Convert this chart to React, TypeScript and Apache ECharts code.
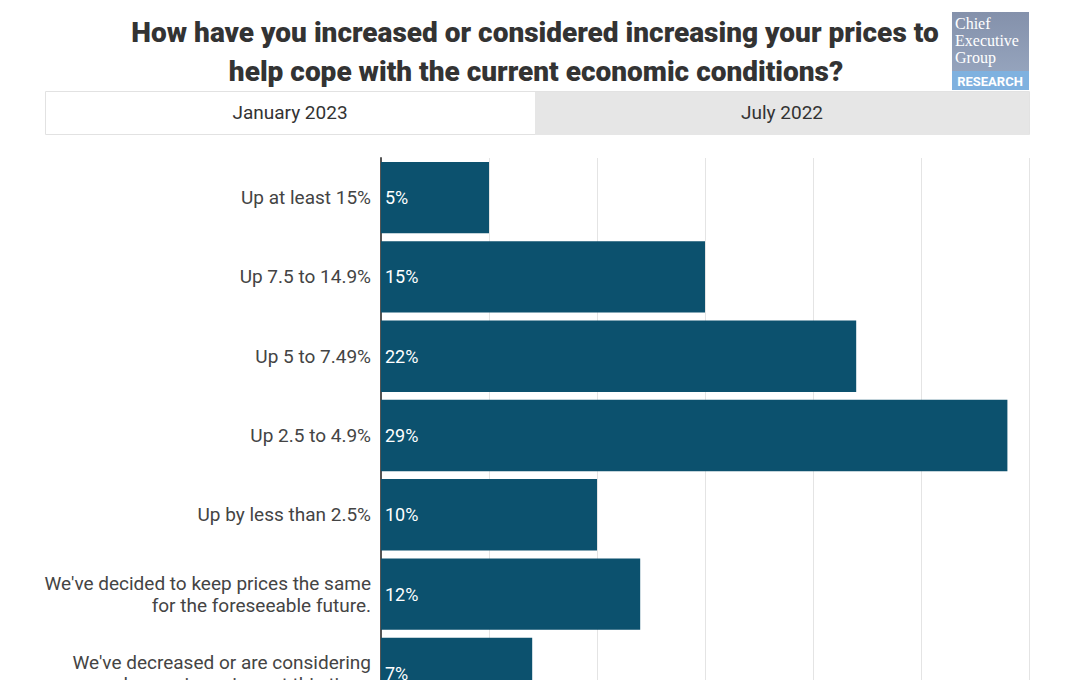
import React, { useEffect, useRef } from "react";
import * as echarts from "echarts";

const categories = [
  "Up at least 15%",
  "Up 7.5 to 14.9%",
  "Up 5 to 7.49%",
  "Up 2.5 to 4.9%",
  "Up by less than 2.5%",
  "We've decided to keep prices the same\nfor the foreseeable future.",
  "We've decreased or are considering\ndecreasing prices at this time.",
];
const values = [5, 15, 22, 29, 10, 12, 7];
const tabLabels = ["January 2023", "July 2022"];
const titleLines = [
  "How have you increased or considered increasing your prices to",
  "help cope with the current economic conditions?",
];
const logoLines = ["Chief", "Executive", "Group"];

export default function App() {
  const ref = useRef<HTMLDivElement>(null);
  useEffect(() => {
    if (!ref.current) return;
    const chart = echarts.init(ref.current, null, { renderer: "svg" });
    const font = "Roboto, 'Noto Sans', sans-serif";
    chart.setOption({
      animation: false,
      backgroundColor: "#ffffff",
      grid: { left: 381, right: 39, top: 158, height: 555, containLabel: false },
      xAxis: {
        type: "value",
        min: 0,
        max: 30,
        interval: 5,
        axisLabel: { show: false },
        axisLine: { show: false },
        axisTick: { show: false },
        splitLine: { show: true, lineStyle: { color: "#e4e4e4", width: 1 } },
      },
      yAxis: {
        type: "category",
        inverse: true,
        data: categories,
        axisTick: { show: false },
        axisLine: { show: true, lineStyle: { color: "#555555", width: 2 } },
        axisLabel: {
          fontFamily: font,
          fontSize: 19,
          color: "#444444",
          margin: 10,
          lineHeight: 22,
          align: "right",
        },
      },
      series: [
        {
          type: "bar",
          data: values,
          barCategoryGap: "10%",
          itemStyle: { color: "#0c516e" },
          label: {
            show: true,
            position: "insideLeft",
            distance: 4,
            formatter: "{c}%",
            color: "#ffffff",
            fontFamily: font,
            fontSize: 18,
          },
        },
      ],
      graphic: [
        {
          type: "text",
          x: 535,
          y: 32,
          style: {
            text: titleLines[0],
            textAlign: "center",
            textVerticalAlign: "middle",
            fontFamily: font,
            fontWeight: 900,
            fontSize: 28,
            fill: "#333333",
          },
        },
        {
          type: "text",
          x: 536,
          y: 71,
          style: {
            text: titleLines[1],
            textAlign: "center",
            textVerticalAlign: "middle",
            fontFamily: font,
            fontWeight: 900,
            fontSize: 28,
            fill: "#333333",
          },
        },
        {
          type: "rect",
          shape: { x: 45.5, y: 91.5, width: 984, height: 43 },
          style: { fill: "#ffffff", stroke: "#e2e2e2", lineWidth: 1 },
        },
        {
          type: "rect",
          shape: { x: 535, y: 92, width: 494, height: 43 },
          style: { fill: "#e6e6e6" },
        },
        {
          type: "text",
          x: 290,
          y: 112,
          style: {
            text: tabLabels[0],
            textAlign: "center",
            textVerticalAlign: "middle",
            fontFamily: font,
            fontSize: 19,
            fill: "#333333",
          },
        },
        {
          type: "text",
          x: 782,
          y: 112,
          style: {
            text: tabLabels[1],
            textAlign: "center",
            textVerticalAlign: "middle",
            fontFamily: font,
            fontSize: 19,
            fill: "#333333",
          },
        },
        {
          type: "rect",
          shape: { x: 952, y: 12, width: 77, height: 78 },
          style: {
            fill: new echarts.graphic.LinearGradient(0, 0, 0, 1, [
              { offset: 0, color: "#8491ab" },
              { offset: 1, color: "#9aa9c2" },
            ]),
          },
        },
        {
          type: "rect",
          shape: { x: 952, y: 71, width: 77, height: 19 },
          style: { fill: "#7fb1df" },
        },
        {
          type: "text",
          x: 955,
          y: 15,
          style: {
            text: logoLines.join("\n"),
            fontFamily: "'Liberation Serif', 'DejaVu Serif', serif",
            fontSize: 16,
            lineHeight: 17,
            fill: "#ffffff",
          },
        },
        {
          type: "text",
          x: 990,
          y: 81,
          style: {
            text: "RESEARCH",
            textAlign: "center",
            textVerticalAlign: "middle",
            fontFamily: font,
            fontWeight: "bold",
            fontSize: 13,
            fill: "#ffffff",
          },
        },
      ],
    });
    return () => chart.dispose();
  }, []);
  return (
    <div
      style={{
        position: "fixed",
        left: 0,
        top: 0,
        width: 1068,
        height: 680,
        overflow: "hidden",
        background: "#fff",
      }}
    >
      <div ref={ref} style={{ width: 1068, height: 760 }} />
    </div>
  );
}
